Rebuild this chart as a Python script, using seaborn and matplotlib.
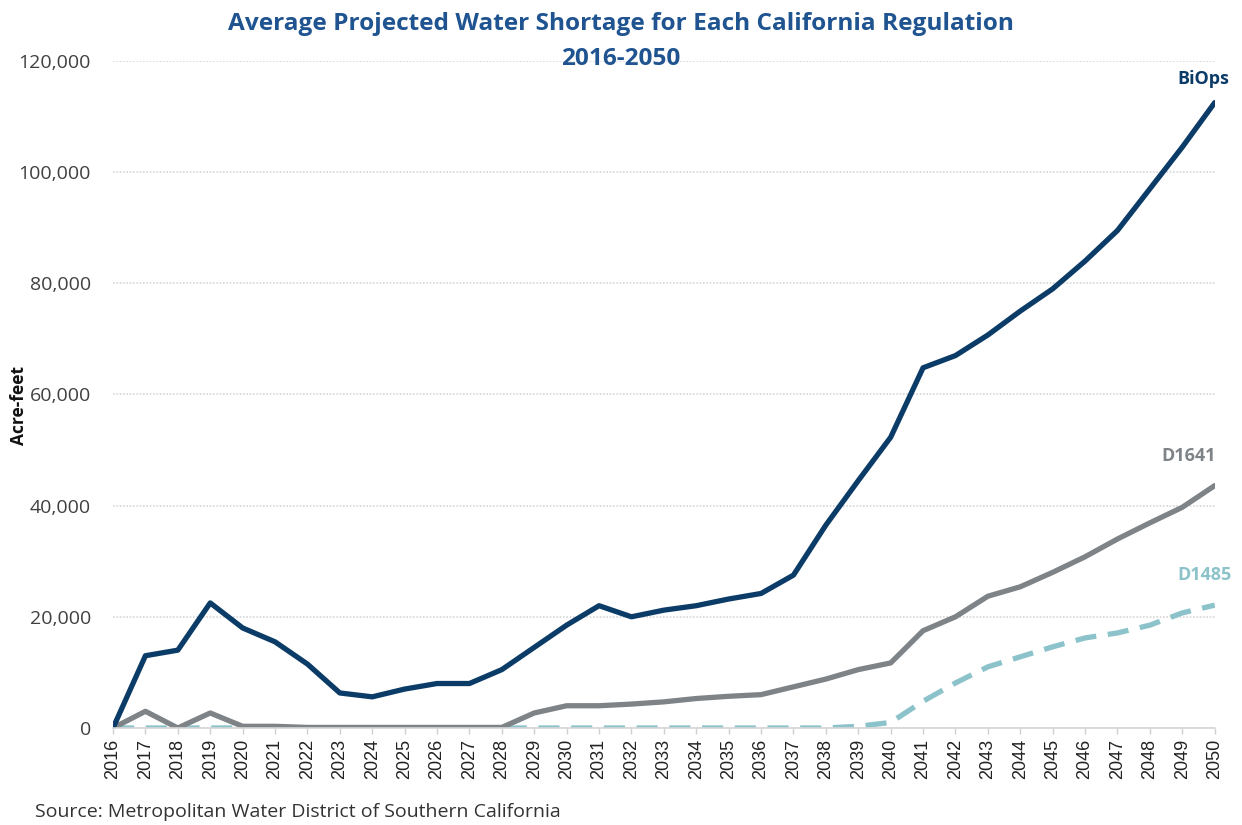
import numpy as np
import pandas as pd
import matplotlib.pyplot as plt
import seaborn as sns

sns.set_theme(style="white")
plt.rcParams['font.family'] = ['Open Sans', 'DejaVu Sans']

# Данные
years = list(range(2016, 2051))
biops = [0, 13000, 14000, 22500, 18000, 15500, 11500, 6300, 5600, 7000,
         8000, 8000, 10500, 14500, 18500, 22000, 20000, 21200, 22000, 23200,
         24200, 27500, 36500, 44500, 52300, 64800, 67000, 70700, 75000, 79000,
         84000, 89500, 97000, 104500, 112500]
d1641 = [0, 3000, 0, 2700, 300, 300, 100, 100, 100, 100,
         100, 100, 100, 2700, 4000, 4000, 4300, 4700, 5300, 5700,
         6000, 7400, 8800, 10500, 11700, 17500, 20000, 23700, 25400, 28000,
         30800, 34000, 36900, 39700, 43600]
d1485 = [0, 0, 0, 0, 0, 0, 0, 0, 0, 0,
         0, 0, 0, 0, 0, 0, 0, 0, 0, 0,
         0, 0, 0, 300, 1000, 4800, 8100, 11000, 12800, 14600,
         16200, 17100, 18500, 20700, 22100]

df = pd.DataFrame({'year': years, 'BiOps': biops, 'D1641': d1641, 'D1485': d1485})

colors = {'BiOps': '#0B3B67', 'D1641': '#7E8388', 'D1485': '#8CC3CB'}

W, H = 1242, 825
fig = plt.figure(figsize=(12.42, 8.25), dpi=100)
ax = fig.add_axes([0.091, 0.1176, 0.887, 0.8085])

# Линии
sns.lineplot(data=df, x='year', y='D1485', ax=ax, color=colors['D1485'],
             linewidth=3.8, linestyle=(0, (4, 2.2)))
sns.lineplot(data=df, x='year', y='D1641', ax=ax, color=colors['D1641'], linewidth=3.8)
sns.lineplot(data=df, x='year', y='BiOps', ax=ax, color=colors['BiOps'], linewidth=3.8)

ax.set_xlim(2016, 2050)
ax.set_ylim(0, 120000)
ax.set_yticks(range(0, 120001, 20000))
ax.set_yticklabels([f'{v:,}' for v in range(0, 120001, 20000)], fontsize=14, color='#404040')
ax.set_xticks(years)
ax.set_xticklabels([str(y) for y in years], rotation=90, fontsize=13,
                   family=['Liberation Sans', 'DejaVu Sans'], color='#222222')
ax.tick_params(axis='y', length=0, pad=16)
ax.tick_params(axis='x', length=4, width=1, color='#d0d0d0', pad=4, direction='out', bottom=True)

ax.grid(axis='y', color='#d6d6d6', linestyle=(0, (1, 1)), linewidth=1.2)
for s in ['top', 'right', 'left']:
    ax.spines[s].set_visible(False)
ax.spines['bottom'].set_color('#d6d6d6')
ax.spines['bottom'].set_linestyle((0, (1, 1)))
ax.spines['bottom'].set_linewidth(1.2)

ax.set_xlabel('')
ax.set_ylabel('Acre-feet', fontsize=12.5, fontweight='bold', color='#111111')
ax.yaxis.set_label_coords(28 / W, 1 - 405 / H, transform=fig.transFigure)

# Подписи серий
ax.text(1229 / W, 1 - 79 / H, 'BiOps', transform=fig.transFigure, color=colors['BiOps'],
        fontsize=13, fontweight='bold', ha='right', va='center')
ax.text(1216 / W, 1 - 456 / H, 'D1641', transform=fig.transFigure, color=colors['D1641'],
        fontsize=13, fontweight='bold', ha='right', va='center')
ax.text(1232 / W, 1 - 575 / H, 'D1485', transform=fig.transFigure, color=colors['D1485'],
        fontsize=13, fontweight='bold', ha='right', va='center')

fig.text(0.5, 1 - 30 / H, 'Average Projected Water Shortage for Each California Regulation',
         ha='center', va='baseline', fontsize=17.6, fontweight='bold', color='#1F5491')
fig.text(0.5, 1 - 65 / H, '2016-2050',
         ha='center', va='baseline', fontsize=17.6, fontweight='bold', color='#1F5491')
fig.text(35 / W, 1 - 812 / H, 'Source: Metropolitan Water District of Southern California',
         ha='left', va='center', fontsize=14, color='#333333')

fig.savefig('out.png', dpi=100)
